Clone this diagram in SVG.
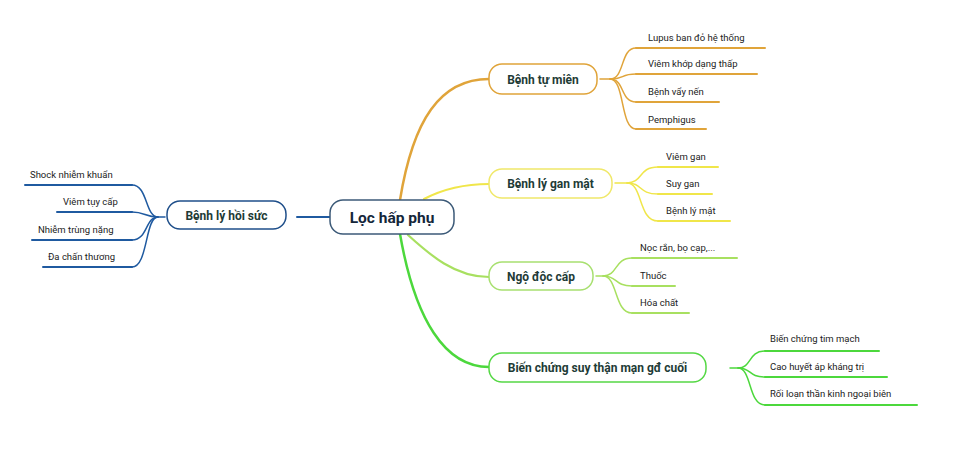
<svg xmlns="http://www.w3.org/2000/svg" width="960" height="456" viewBox="0 0 960 456">
<style>
.node{fill:#fff;stroke-width:1.5}
.nt{font-family:Roboto,"Liberation Sans",sans-serif;font-weight:bold;fill:#1e3b36;text-anchor:middle;font-size:12px}
.lt{font-family:Roboto,"Liberation Sans",sans-serif;font-size:9.5px;fill:#222}
.c{fill:none;stroke-linecap:round}
.blue{stroke:#1f5aa0}
.orange{stroke:#e0a43a}
.yellow{stroke:#f0e64a}
.lgreen{stroke:#a8e060}
.green{stroke:#4cd83c}
</style>
<rect width="960" height="456" fill="#fff"/>
<g id="connectors">
  <path class="c blue" stroke-width="2" d="M297 217 H330"/>
  <path class="c orange" stroke-width="2.5" d="M400 200 C413 120 440 79 489 79"/>
  <path class="c yellow" stroke-width="2.2" d="M424 199 C445 188 465 184 489 184"/>
  <path class="c lgreen" stroke-width="2.2" d="M408 235 C430 255 455 277 489 277"/>
  <path class="c green" stroke-width="2.5" d="M400 234 C415 320 445 367 489 367"/>
  <g class="c blue" stroke-width="1.5">
    <path d="M165 217 H158 C145 217 148 185 132 185"/>
    <path d="M158 217 C145 217 145 212 132 212"/>
    <path d="M158 217 C145 217 148 240 132 240"/>
    <path d="M158 217 C145 217 148 267 132 267"/>
  </g>
  <g class="c blue" stroke-width="2">
    <path d="M132 185 H25"/><path d="M132 212 H57"/><path d="M132 240 H32"/><path d="M132 267 H43"/>
  </g>
  <g class="c orange" stroke-width="1.5">
    <path d="M600 79 H610 C625 79 620 48 636 48"/>
    <path d="M610 79 C625 79 620 74 636 74"/>
    <path d="M610 79 C625 79 620 102 636 102"/>
    <path d="M610 79 C625 79 620 129 636 129"/>
  </g>
  <g class="c orange" stroke-width="2">
    <path d="M636 48 H765"/><path d="M636 74 H757"/><path d="M636 102 H719"/><path d="M636 129 H706"/>
  </g>
  <g class="c yellow" stroke-width="1.5">
    <path d="M615 183 H627 C643 183 638 167 658 167"/>
    <path d="M627 183 C643 183 638 194 658 194"/>
    <path d="M627 183 C643 183 638 221 658 221"/>
  </g>
  <g class="c yellow" stroke-width="2">
    <path d="M658 167 H718"/><path d="M658 194 H712"/><path d="M658 221 H730"/>
  </g>
  <g class="c lgreen" stroke-width="1.5">
    <path d="M596 276 H603 C618 276 614 258 632 258"/>
    <path d="M603 276 C618 276 614 286 632 286"/>
    <path d="M603 276 C618 276 614 313 632 313"/>
  </g>
  <g class="c lgreen" stroke-width="2">
    <path d="M632 258 H737"/><path d="M632 286 H675"/><path d="M632 313 H689"/>
  </g>
  <g class="c green" stroke-width="1.5">
    <path d="M730 368 H738 C752 368 748 351 765 351"/>
    <path d="M738 368 C752 368 748 377 765 377"/>
    <path d="M738 368 C752 368 748 405 765 405"/>
  </g>
  <g class="c green" stroke-width="2">
    <path d="M765 351 H879"/><path d="M765 377 H887"/><path d="M765 405 H917"/>
  </g>
</g>
<g id="n-center">
  <rect class="node" x="330" y="200" width="124" height="34" rx="13" stroke="#3c5a78"/>
  <text class="nt" x="392" y="223" style="fill:#14263a;font-size:15.5px">Lọc hấp phụ</text>
</g>
<g id="n-hoisuc">
  <rect class="node" x="167" y="201" width="119" height="28" rx="13" stroke="#1f4f8a"/>
  <text class="nt" x="226.5" y="219.5">Bệnh lý hồi sức</text>
</g>
<g id="n-tumien">
  <rect class="node" x="489" y="64" width="108" height="30" rx="13" stroke="#e0a43a"/>
  <text class="nt" x="543" y="83.5">Bệnh tự miên</text>
</g>
<g id="n-ganmat">
  <rect class="node" x="489" y="169" width="123" height="29" rx="13" stroke="#f0e86a"/>
  <text class="nt" x="550.5" y="188">Bệnh lý gan mật</text>
</g>
<g id="n-ngodoc">
  <rect class="node" x="489" y="262" width="104" height="28" rx="13" stroke="#a8e070"/>
  <text class="nt" x="541" y="281">Ngộ độc cấp</text>
</g>
<g id="n-suythan">
  <rect class="node" x="489" y="353" width="217" height="29" rx="13" stroke="#55d845"/>
  <text class="nt" x="597.5" y="372">Biến chứng suy thận mạn gđ cuối</text>
</g>
<g id="leaves">
  <text class="lt" x="30" y="178">Shock nhiễm khuẩn</text>
  <text class="lt" x="63" y="205">Viêm tụy cấp</text>
  <text class="lt" x="38" y="233">Nhiễm trùng nặng</text>
  <text class="lt" x="48" y="260">Đa chấn thương</text>
  <text class="lt" x="648" y="41">Lupus ban đỏ hệ thống</text>
  <text class="lt" x="648" y="67">Viêm khớp dạng thấp</text>
  <text class="lt" x="648" y="95">Bệnh vẩy nến</text>
  <text class="lt" x="648" y="123">Pemphigus</text>
  <text class="lt" x="666" y="160">Viêm gan</text>
  <text class="lt" x="666" y="187">Suy gan</text>
  <text class="lt" x="666" y="214">Bệnh lý mật</text>
  <text class="lt" x="640" y="251">Nọc rắn, bọ cạp,...</text>
  <text class="lt" x="640" y="279">Thuốc</text>
  <text class="lt" x="640" y="306">Hóa chất</text>
  <text class="lt" x="770" y="342">Biến chứng tim mạch</text>
  <text class="lt" x="770" y="370">Cao huyết áp kháng trị</text>
  <text class="lt" x="770" y="397">Rối loạn thần kinh ngoại biên</text>
</g>
</svg>
